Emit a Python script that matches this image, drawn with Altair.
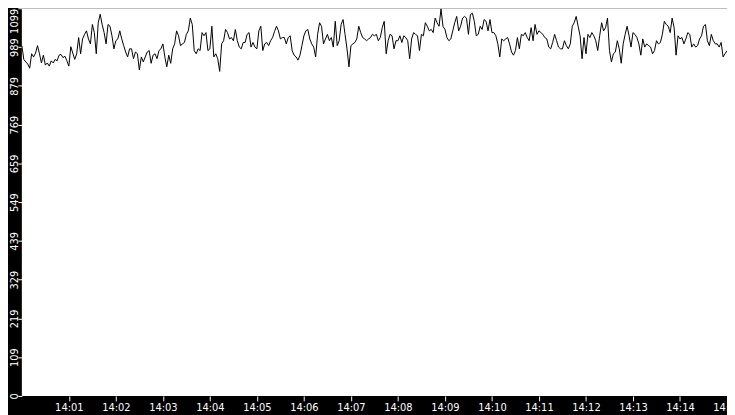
import altair as alt
import pandas as pd

# Sampled values (every 2.5 s from 14:00:00 to 14:15:00)
seg1 = [993, 954, 947, 941, 929, 970, 961, 972, 993, 970, 944, 966, 938, 944, 935,
        950, 944, 954, 950, 966, 968, 959, 963, 950, 935, 990, 972, 954, 970, 1016,
        970, 1012, 1025, 1035, 1012, 998, 1053, 1030, 970, 1058, 1082, 1053, 1030, 998, 1053]
seg2 = [1048, 1021, 984, 1007, 1012, 1035, 1012, 993, 975, 961, 984, 984, 956, 975, 970,
        924, 961, 947, 961, 975, 979, 943, 966, 970, 956, 979, 984, 998, 961, 933,
        966, 943, 984, 998, 1035, 1021, 993, 998, 1002, 1025, 1035, 1071, 1053, 979, 970]
seg3 = [984, 979, 1030, 1021, 1030, 979, 984, 1048, 961, 970, 956, 920, 998, 1007, 1039,
        1030, 1012, 1016, 1007, 1039, 1007, 989, 984, 1002, 1002, 1025, 1030, 989, 1002, 989,
        984, 1035, 1048, 979, 998, 1002, 993, 1007, 1016, 1033, 1048, 1035, 1012, 1016, 1016]
seg4 = [998, 1016, 1021, 979, 966, 961, 952, 966, 993, 1021, 1035, 1039, 1012, 998, 989,
        961, 1025, 1058, 1048, 998, 1012, 1025, 1007, 1016, 989, 1062, 993, 1007, 1053, 1067,
        1025, 984, 933, 993, 998, 1002, 1012, 1048, 1030, 1016, 1012, 1007, 1012, 1016, 1025]
seg5 = [1021, 1025, 1007, 1016, 1044, 1062, 970, 1007, 1025, 1021, 984, 1007, 1007, 1021, 1002,
        1021, 1016, 1007, 956, 1012, 1030, 1025, 1021, 979, 1025, 1021, 1058, 1048, 1035, 1039,
        1030, 1071, 1058, 1048, 1097, 1048, 1039, 1016, 1007, 1012, 1035, 1058, 1076, 1035, 1048]
seg6 = [1071, 1076, 1071, 1025, 1081, 1085, 1062, 1021, 1025, 1048, 1039, 1067, 1062, 1035, 1067,
        1030, 1030, 1021, 998, 961, 1012, 1007, 1012, 1016, 998, 975, 966, 979, 1016, 984,
        1025, 1021, 1030, 1016, 1007, 1044, 1007, 1053, 1025, 1035, 1030, 1025, 1016, 1012, 989]
seg7 = [984, 1002, 1025, 1007, 989, 984, 984, 1007, 993, 984, 998, 1048, 1058, 1076, 1048,
        1021, 956, 1016, 970, 1025, 1016, 1030, 1021, 1007, 979, 1021, 1058, 1035, 1044, 1071,
        979, 947, 970, 975, 1007, 984, 943, 998, 1025, 1048, 1021, 989, 1030, 1025, 1016]
seg8 = [998, 966, 1012, 989, 998, 993, 989, 970, 979, 1007, 998, 1002, 1025, 1062, 1053,
        1048, 1030, 1071, 1044, 966, 1021, 1012, 1016, 998, 1012, 1030, 1025, 989, 998, 989,
        993, 1012, 1021, 1048, 1053, 1007, 993, 1025, 1007, 998, 998, 989, 1002, 961, 970, 979]

values = seg1 + seg2 + seg3 + seg4 + seg5 + seg6 + seg7 + seg8
start = pd.Timestamp("2024-01-01 14:00:00")
times = [start + pd.Timedelta(seconds=2.5 * i) for i in range(len(values))]

y_ticks = [0, 109.9, 219.8, 329.7, 439.6, 549.5, 659.4, 769.3, 879.2, 989.1, 1099]
x_tick_minutes = list(range(1, 16))

df = pd.DataFrame({"time": [t.strftime("%Y-%m-%dT%H:%M:%S.%f")[:-3] for t in times],
                   "value": values})

x_ticks = [alt.DateTime(year=2024, month=1, date=1, hours=14, minutes=m) for m in x_tick_minutes]

chart = alt.Chart(df).mark_line(color="black", strokeWidth=1).encode(
    x=alt.X("time:T",
            scale=alt.Scale(domain=[alt.DateTime(year=2024, month=1, date=1, hours=14, minutes=0),
                                    alt.DateTime(year=2024, month=1, date=1, hours=14, minutes=15)]),
            axis=alt.Axis(values=x_ticks, format="%H:%M", title=None, grid=False,
                          domain=False, tickColor="white", tickSize=5, labelColor="white",
                          labelFont="DejaVu Sans", labelFontSize=10, labelPadding=2,
                          labelFlush=False, labelOverlap=False)),
    y=alt.Y("value:Q",
            scale=alt.Scale(domain=[0, 1099], nice=False, zero=True),
            axis=alt.Axis(values=y_ticks, labelExpr="floor(datum.value)", title=None, grid=False,
                          domain=False, tickColor="white", tickSize=4, labelColor="white",
                          labelFont="DejaVu Sans", labelFontSize=10, labelAngle=-90,
                          labelBaseline="alphabetic",
                          labelPadding=0, labelFlush=False, labelOverlap=False,
                          labelAlign=alt.condition("datum.value >= 1099", alt.value("right"), alt.value("center")))),
).properties(
    width=713,
    height=392,
    autosize=alt.AutoSizeParams(type="none"),
    padding={"left": 14, "top": -2, "right": 0, "bottom": 17},
    background="black",
).configure_view(fill="white", strokeWidth=0)

chart.save("out.html", embed_options={"renderer": "svg", "actions": False})
